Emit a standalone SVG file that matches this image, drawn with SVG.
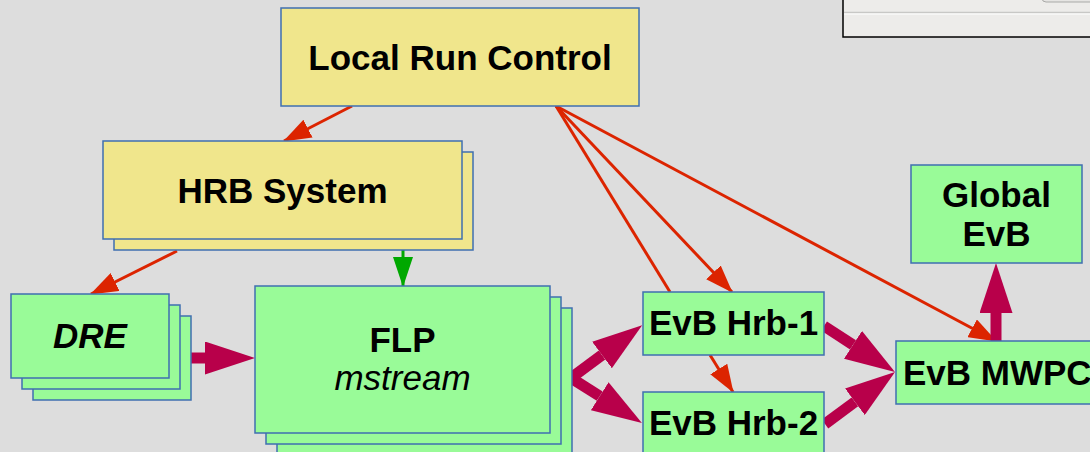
<svg xmlns="http://www.w3.org/2000/svg" width="1090" height="452" viewBox="0 0 1090 452">
  <style>
    .bg { fill: #dddddd; }
    .ctl { fill: #f0e68c; stroke: #3f6fb0; stroke-width: 1.5; }
    .proc { fill: #99fb98; stroke: #3f6fb0; stroke-width: 1.5; }
    .lbl { font-family: "Liberation Sans", Arial, sans-serif; font-size: 35px; font-weight: bold; fill: #000; text-anchor: middle; }
    .it { font-style: italic; }
    .ctrl { fill: none; stroke: #dc2400; stroke-width: 3; }
    .go { fill: none; stroke: #00a800; stroke-width: 3; }
    .data { fill: none; stroke: #b8004a; stroke-width: 11; }
  </style>
  <defs>
    <marker id="headRed" markerUnits="userSpaceOnUse" viewBox="0 0 28 20" markerWidth="28" markerHeight="20" refX="27" refY="10" orient="auto">
      <path d="M0,0 L28,10 L0,20 z" fill="#dc2400"/>
    </marker>
    <marker id="headGreen" markerUnits="userSpaceOnUse" viewBox="0 0 30 20" markerWidth="30" markerHeight="20" refX="29" refY="10" orient="auto">
      <path d="M0,0 L30,10 L0,20 z" fill="#00a800"/>
    </marker>
    <marker id="headData" markerUnits="userSpaceOnUse" viewBox="0 0 50 33" markerWidth="50" markerHeight="33" refX="0" refY="16.5" orient="auto">
      <path d="M0,0 L50,16.5 L0,33 z" fill="#b8004a"/>
    </marker>
  </defs>

  <rect class="bg" x="0" y="0" width="1090" height="452"/>

  <!-- window fragment at the top right -->
  <g id="panel">
    <rect x="843" y="-5" width="260" height="42" fill="#edecea" stroke="#000" stroke-width="1.5"/>
    <line x1="844" y1="12.5" x2="1090" y2="12.5" stroke="#c8c8c6" stroke-width="1.5"/>
    <line x1="844" y1="14" x2="1090" y2="14" stroke="#ffffff" stroke-width="1"/>
    <rect x="1042" y="-20" width="60" height="22" rx="4" fill="#e6e5e3" stroke="#a9a9a7" stroke-width="1"/>
  </g>

  <g id="connectors">
    <!-- control links -->
    <path class="ctrl" d="M352,106 L284,141" marker-end="url(#headRed)"/>
    <path class="ctrl" d="M177,251 L91,294" marker-end="url(#headRed)"/>
    <path class="ctrl" d="M556,106 L670,292"/>
    <path class="ctrl" d="M556,106 L732,292" marker-end="url(#headRed)"/>
    <path class="ctrl" d="M556,106 L996,341" marker-end="url(#headRed)"/>
    <path class="ctrl" d="M710,355 L733,392" marker-end="url(#headRed)"/>
    <path class="go" d="M403,250 L403,286" marker-end="url(#headGreen)"/>
    <!-- data flow -->
    <path class="data" d="M191,358 L205,358" marker-end="url(#headData)"/>
    <path class="data" d="M571,378 L602,355" marker-end="url(#headData)"/>
    <path class="data" d="M571,378 L599.7,396.2" marker-end="url(#headData)"/>
    <path class="data" d="M824,326 L853,344.8" marker-end="url(#headData)"/>
    <path class="data" d="M825,424 L854.9,401.8" marker-end="url(#headData)"/>
    <path class="data" d="M996,341 L996,313" marker-end="url(#headData)"/>
  </g>

  <g id="local-run-control">
    <rect class="ctl" x="281" y="8" width="358" height="98"/>
    <text class="lbl" x="460" y="70">Local Run Control</text>
  </g>

  <g id="hrb-system">
    <rect class="ctl" x="114" y="152" width="359" height="98"/>
    <rect class="ctl" x="103" y="141" width="359" height="98"/>
    <text class="lbl" x="282.5" y="203">HRB System</text>
  </g>

  <g id="dre">
    <rect class="proc" x="33" y="316" width="158" height="84"/>
    <rect class="proc" x="22" y="305" width="158" height="84"/>
    <rect class="proc" x="11" y="294" width="158" height="84"/>
    <text class="lbl it" x="90" y="348">DRE</text>
  </g>

  <g id="flp">
    <rect class="proc" x="277" y="308" width="295" height="150"/>
    <rect class="proc" x="266" y="297" width="295" height="147"/>
    <rect class="proc" x="255" y="286" width="295" height="147"/>
    <text class="lbl" x="402.5" y="352">FLP</text>
    <text class="lbl it" x="402.5" y="390" font-weight="normal" style="font-weight:normal">mstream</text>
  </g>

  <g id="evb-hrb-1">
    <rect class="proc" x="643" y="292" width="181" height="63"/>
    <text class="lbl" x="733.5" y="335">EvB Hrb-1</text>
  </g>

  <g id="evb-hrb-2">
    <rect class="proc" x="643" y="392" width="181" height="66"/>
    <text class="lbl" x="733.5" y="435">EvB Hrb-2</text>
  </g>

  <g id="global-evb">
    <rect class="proc" x="911" y="165" width="171" height="98"/>
    <text class="lbl" x="996.5" y="207">Global</text>
    <text class="lbl" x="996.5" y="246">EvB</text>
  </g>

  <g id="evb-mwpc">
    <rect class="proc" x="896" y="341" width="200" height="63"/>
    <text class="lbl" x="903" y="385" style="text-anchor:start">EvB MWPC</text>
  </g>
</svg>
